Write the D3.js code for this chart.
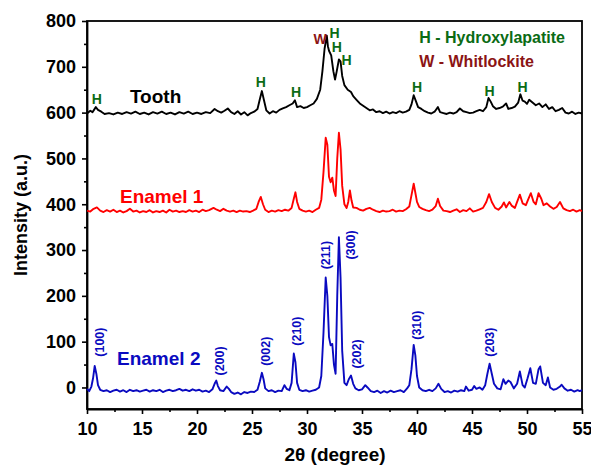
<!DOCTYPE html>
<html>
<head>
<meta charset="utf-8">
<script src="https://cdn.jsdelivr.net/npm/d3@7"></script>
<style>
  body { margin: 0; background: #fff; }
  svg { font-family: "Liberation Sans", Arial, sans-serif; font-weight: bold; }
</style>
</head>
<body>
<svg id="chart" width="591" height="468"></svg>
<script>
// ===============================
// DATA
// ===============================
const xTicks = [10, 15, 20, 25, 30, 35, 40, 45, 50, 55];
const yTicks = [0, 100, 200, 300, 400, 500, 600, 700, 800];

// [2theta, intensity]
const tooth = [
  [10.0,598],[10.3,604],[10.5,601],[10.8,612],[11.0,606],[11.3,602],[11.6,597],[12.0,599],[12.4,596],[12.8,600],
  [13.2,597],[13.6,601],[14.0,598],[14.4,602],[14.8,597],[15.2,600],[15.6,596],[16.0,601],[16.4,598],[16.8,602],
  [17.2,597],[17.6,600],[18.0,596],[18.4,601],[18.8,598],[19.2,602],[19.6,597],[20.0,600],[20.4,597],[20.8,601],
  [21.2,599],[21.6,608],[21.9,603],[22.2,600],[22.5,604],[22.8,609],[23.1,601],[23.4,597],[23.7,603],[24.0,596],
  [24.3,601],[24.6,594],[24.9,599],[25.2,602],[25.5,608],[25.7,628],[25.9,647],[26.1,626],[26.3,605],[26.6,598],
  [26.9,603],[27.2,600],[27.5,606],[27.8,609],[28.1,612],[28.4,616],[28.7,620],[28.9,627],[29.1,612],[29.4,614],
  [29.7,610],[30.0,612],[30.3,616],[30.6,620],[30.9,630],[31.2,650],[31.4,690],[31.6,740],[31.8,768],[31.9,745],
  [32.0,735],[32.2,725],[32.4,690],[32.55,672],[32.7,690],[32.9,716],[33.05,712],[33.2,680],[33.4,660],[33.7,650],
  [34.0,645],[34.2,636],[34.5,628],[34.8,620],[35.1,615],[35.4,610],[35.7,605],[36.0,607],[36.3,601],[36.6,603],
  [36.9,599],[37.2,602],[37.5,598],[37.8,601],[38.1,599],[38.4,603],[38.7,600],[39.0,602],[39.3,606],[39.5,618],
  [39.7,638],[39.9,625],[40.1,612],[40.4,608],[40.7,603],[41.0,600],[41.3,598],[41.6,602],[41.9,612],[42.1,601],
  [42.4,599],[42.7,597],[43.0,600],[43.3,598],[43.6,601],[43.9,609],[44.2,603],[44.5,601],[44.8,599],[45.1,600],
  [45.4,603],[45.7,606],[46.0,603],[46.3,612],[46.5,632],[46.7,624],[46.9,614],[47.2,608],[47.5,610],[47.8,613],
  [48.1,620],[48.3,608],[48.6,610],[48.9,613],[49.2,622],[49.4,640],[49.6,626],[49.8,624],[50.0,619],[50.2,628],
  [50.5,622],[50.8,616],[51.1,620],[51.4,612],[51.7,618],[52.0,608],[52.3,612],[52.6,603],[52.9,606],[53.2,610],
  [53.5,600],[53.8,598],[54.1,602],[54.4,597],[54.7,600],[55.0,598]
];

const enamel1 = [
  [10.0,386],[10.3,384],[10.6,390],[10.9,393],[11.2,386],[11.5,383],[11.8,387],[12.1,384],[12.4,388],[12.7,383],
  [13.0,386],[13.3,382],[13.6,385],[13.9,390],[14.2,384],[14.5,386],[14.8,382],[15.1,385],[15.4,383],[15.7,387],
  [16.0,382],[16.3,385],[16.6,383],[16.9,386],[17.2,382],[17.5,388],[17.8,384],[18.1,386],[18.4,383],[18.7,385],
  [19.0,383],[19.3,387],[19.6,384],[19.9,386],[20.2,383],[20.5,388],[20.8,385],[21.1,387],[21.5,392],[21.8,388],
  [22.1,385],[22.4,390],[22.7,386],[23.0,384],[23.3,386],[23.6,383],[23.9,386],[24.2,384],[24.5,385],[24.8,383],
  [25.1,386],[25.4,390],[25.6,405],[25.8,416],[26.0,400],[26.2,388],[26.5,383],[26.8,386],[27.1,384],[27.4,387],
  [27.7,385],[28.0,388],[28.3,386],[28.6,392],[28.8,412],[28.95,426],[29.1,405],[29.3,390],[29.6,386],[29.9,384],
  [30.2,386],[30.5,383],[30.8,388],[31.1,392],[31.3,410],[31.5,470],[31.7,545],[31.85,530],[32.0,460],[32.15,448],
  [32.3,458],[32.45,430],[32.6,418],[32.75,500],[32.9,556],[33.05,520],[33.2,440],[33.4,400],[33.6,392],[33.75,405],
  [33.9,430],[34.05,408],[34.2,393],[34.5,392],[34.8,388],[35.1,386],[35.4,390],[35.7,392],[36.0,388],[36.3,385],
  [36.6,383],[36.9,386],[37.2,384],[37.5,385],[37.8,388],[38.1,384],[38.4,386],[38.7,385],[39.0,389],[39.3,395],
  [39.5,420],[39.7,445],[39.85,425],[40.0,405],[40.2,394],[40.5,390],[40.8,387],[41.1,385],[41.4,388],[41.7,396],
  [41.9,412],[42.1,396],[42.4,386],[42.7,385],[43.0,383],[43.3,386],[43.6,389],[43.9,383],[44.2,387],[44.5,385],
  [44.8,391],[45.1,384],[45.4,386],[45.7,389],[46.0,392],[46.3,405],[46.55,422],[46.8,405],[47.1,392],[47.4,388],
  [47.7,395],[47.9,404],[48.1,393],[48.4,405],[48.6,397],[48.9,392],[49.1,405],[49.35,421],[49.6,402],[49.9,398],
  [50.1,410],[50.35,424],[50.6,405],[50.8,400],[51.05,424],[51.3,412],[51.5,398],[51.8,402],[52.1,395],[52.4,390],
  [52.7,394],[53.0,405],[53.3,391],[53.6,387],[53.9,385],[54.2,388],[54.5,384],[54.8,387],[55.0,385]
];

const enamel2 = [
  [10.0,-3],[10.2,-8],[10.4,2],[10.55,20],[10.7,47],[10.85,30],[11.0,5],[11.2,-5],[11.5,-8],[11.8,-6],
  [12.1,-10],[12.4,-7],[12.7,-5],[13.0,-9],[13.3,-6],[13.6,-10],[13.9,-5],[14.2,-8],[14.5,-6],[14.8,-9],
  [15.1,-7],[15.4,-5],[15.7,-9],[16.0,-6],[16.3,-8],[16.6,-5],[16.9,-10],[17.2,-7],[17.5,-5],[17.8,-8],
  [18.1,-6],[18.4,-3],[18.7,-7],[19.0,-5],[19.3,-8],[19.6,-4],[19.9,-7],[20.2,-5],[20.5,-9],[20.8,-7],
  [21.1,-10],[21.4,-4],[21.6,8],[21.75,15],[21.9,3],[22.1,-6],[22.4,-8],[22.7,2],[22.9,-3],[23.1,-10],
  [23.4,-14],[23.7,-11],[24.0,-15],[24.3,-10],[24.6,-12],[24.9,-9],[25.2,-10],[25.5,-5],[25.7,12],[25.9,32],
  [26.05,18],[26.2,-2],[26.5,-8],[26.8,-6],[27.1,-10],[27.4,-7],[27.7,-8],[27.95,5],[28.15,-3],[28.4,-6],
  [28.6,10],[28.8,74],[28.95,55],[29.1,10],[29.3,-5],[29.6,-8],[29.9,-6],[30.2,-9],[30.5,-7],[30.8,-5],
  [31.1,0],[31.3,25],[31.5,120],[31.7,240],[31.85,200],[32.0,110],[32.15,92],[32.3,95],[32.45,50],[32.6,30],
  [32.75,200],[32.9,328],[33.05,240],[33.2,80],[33.4,10],[33.6,5],[33.8,18],[34.0,26],[34.2,8],[34.4,-2],
  [34.7,-6],[35.0,-4],[35.3,5],[35.5,0],[35.8,-8],[36.1,-10],[36.4,-7],[36.7,-12],[37.0,-8],[37.3,-11],
  [37.6,-7],[37.9,-10],[38.2,-8],[38.5,-6],[38.8,-10],[39.1,-2],[39.3,5],[39.5,40],[39.7,93],[39.85,70],
  [40.0,25],[40.2,0],[40.5,-6],[40.8,-8],[41.1,-5],[41.4,-8],[41.7,-2],[41.95,8],[42.2,-3],[42.5,-10],
  [42.8,-8],[43.1,-11],[43.4,-7],[43.7,-9],[44.0,-6],[44.3,-8],[44.45,2],[44.7,-7],[45.0,-5],[45.2,3],
  [45.4,-3],[45.7,0],[45.95,-5],[46.2,5],[46.4,30],[46.6,52],[46.8,30],[47.0,8],[47.3,-2],[47.6,-4],
  [47.85,18],[48.05,8],[48.3,15],[48.5,12],[48.8,-2],[49.1,8],[49.35,35],[49.6,5],[49.8,0],[50.05,20],
  [50.3,42],[50.55,10],[50.8,8],[51.05,40],[51.2,46],[51.45,10],[51.7,5],[51.9,22],[52.1,0],[52.4,-5],
  [52.7,-3],[53.0,2],[53.15,6],[53.4,-2],[53.7,-7],[54.0,-5],[54.3,-9],[54.6,-6],[54.8,-8],[55.0,-6]
];

// phase markers on the tooth trace: [2theta, intensity at baseline, letter]
const phaseMarks = [
  [10.9, 619, "H"], [25.8, 655, "H"], [29.0, 634, "H"], [31.2, 750, "W"],
  [32.5, 763, "H"], [32.7, 732, "H"], [33.6, 704, "H"], [40.0, 645, "H"],
  [46.6, 636, "H"], [49.6, 645, "H"]
];

// Miller indices on Enamel 2: [2theta, intensity at label centre, text]
const millerLabels = [
  [11.18, 99, "(100)"], [22.09, 58, "(200)"], [26.27, 79, "(002)"], [29.09, 123, "(210)"],
  [31.73, 289, "(211)"], [34.0, 311, "(300)"], [34.55, 73, "(202)"], [40.0, 136, "(310)"],
  [46.64, 99, "(203)"]
];

const series = [
  { name: "Tooth",    data: tooth,   color: "#000000", label: [13.9, 621] },
  { name: "Enamel 1", data: enamel1, color: "#ff0000", label: [13.0, 403] },
  { name: "Enamel 2", data: enamel2, color: "#0a0ac0", label: [12.73, 49] }
];

// ===============================
// CHART
// ===============================
const svg = d3.select("#chart");
const margin = { top: 21, right: 9, bottom: 59, left: 87 };
const width = 591, height = 468;
const innerWidth = width - margin.left - margin.right;
const innerHeight = height - margin.top - margin.bottom;

const g = svg.append("g").attr("transform", `translate(${margin.left},${margin.top})`);

const x = d3.scaleLinear().domain([10, 55]).range([0, innerWidth]);
const y = d3.scaleLinear().domain([-47, 800]).range([innerHeight, 0]);

// minor ticks
g.append("g")
  .attr("transform", `translate(0,${innerHeight})`)
  .call(d3.axisBottom(x).tickValues(d3.range(12.5, 55, 5)).tickSize(3))
  .call(a => a.select(".domain").remove())
  .call(a => a.selectAll("text").remove());
g.append("g")
  .call(d3.axisLeft(y).tickValues(d3.range(50, 800, 100)).tickSize(3))
  .call(a => a.select(".domain").remove())
  .call(a => a.selectAll("text").remove());

// major axes
const xAxis = g.append("g")
  .attr("transform", `translate(0,${innerHeight})`)
  .call(d3.axisBottom(x).tickValues(xTicks).tickSize(5).tickSizeOuter(0).tickPadding(8));
const yAxis = g.append("g")
  .call(d3.axisLeft(y).tickValues(yTicks).tickSize(5).tickSizeOuter(0).tickPadding(6));

[xAxis, yAxis].forEach(a => {
  a.selectAll("text").style("font-size", "18px").style("font-weight", "bold")
    .style("font-family", "'Liberation Sans', Arial, sans-serif").attr("fill", "#000");
  a.select(".domain").attr("stroke-width", 1.8);
});
g.selectAll(".tick line").attr("stroke-width", 1.6);

// frame
g.append("rect")
  .attr("width", innerWidth)
  .attr("height", innerHeight)
  .attr("fill", "none")
  .attr("stroke", "#000")
  .attr("stroke-width", 1.8);

// traces
const line = d3.line().x(d => x(d[0])).y(d => y(d[1]));

series.forEach(s => {
  g.append("path")
    .datum(s.data)
    .attr("fill", "none")
    .attr("stroke", s.color)
    .attr("stroke-width", 1.9)
    .attr("stroke-linejoin", "round")
    .attr("d", line);

  g.append("text")
    .attr("x", x(s.label[0]))
    .attr("y", y(s.label[1]))
    .attr("fill", s.color)
    .style("font-size", "19px")
    .text(s.name);
});

// phase letters
g.selectAll(".phase")
  .data(phaseMarks)
  .join("text")
  .attr("class", "phase")
  .attr("x", d => x(d[0]))
  .attr("y", d => y(d[1]))
  .attr("text-anchor", "middle")
  .attr("fill", d => d[2] === "W" ? "#8b1414" : "#0b6b14")
  .style("font-size", "14px")
  .text(d => d[2]);

// Miller indices, rotated
g.selectAll(".hkl")
  .data(millerLabels)
  .join("text")
  .attr("class", "hkl")
  .attr("transform", d => `translate(${x(d[0])},${y(d[1])}) rotate(-90)`)
  .attr("text-anchor", "middle")
  .attr("dy", "0.35em")
  .attr("fill", "#0a0ac0")
  .style("font-size", "12.5px")
  .text(d => d[2]);

// legend
const legend = g.append("g").attr("transform", `translate(${x(40.2)},0)`);
legend.append("text").attr("y", 22).attr("fill", "#0b6b14").style("font-size", "16px")
  .text("H - Hydroxylapatite");
legend.append("text").attr("y", 46).attr("fill", "#8b1414").style("font-size", "16px")
  .text("W - Whitlockite");

// axis titles
svg.append("text")
  .attr("x", 335)
  .attr("y", 461)
  .attr("text-anchor", "middle")
  .style("font-size", "19px")
  .text("2θ (degree)");

svg.append("text")
  .attr("transform", `translate(27,${margin.top + innerHeight / 2}) rotate(-90)`)
  .attr("text-anchor", "middle")
  .style("font-size", "18px")
  .text("Intensity (a.u.)");
</script>
</body>
</html>
